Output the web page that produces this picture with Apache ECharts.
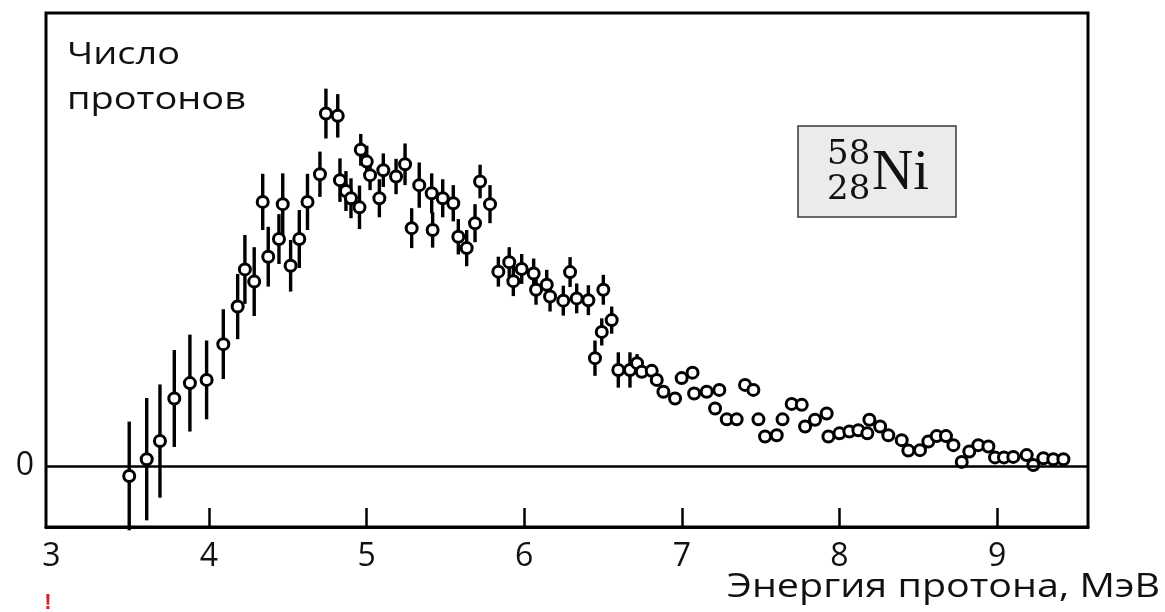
<!DOCTYPE html>
<html>
<head>
<meta charset="utf-8">
<title>Спектр протонов 58Ni</title>
<script src="https://cdn.jsdelivr.net/npm/echarts@6/dist/echarts.min.js"></script>
<style>
  html, body { margin: 0; padding: 0; background: #fff; }
  #chart { width: 1165px; height: 612px; }
</style>
</head>
<body>
<div id="chart"></div>
<script>
// Proton energy, MeV
const energy = [
  3.494, 3.605, 3.689, 3.780, 3.879, 3.985, 4.091, 4.182, 4.228, 4.287,
  4.341, 4.376, 4.444, 4.468, 4.518, 4.573, 4.625, 4.704, 4.742, 4.817,
  4.831, 4.869, 4.901, 4.955, 4.963, 5.001, 5.022, 5.081, 5.106, 5.187,
  5.244, 5.286, 5.334, 5.413, 5.419, 5.483, 5.550, 5.582, 5.635, 5.688,
  5.720, 5.783, 5.836, 5.905, 5.931, 5.984, 6.060, 6.075, 6.143, 6.164,
  6.248, 6.291, 6.333, 6.407, 6.449, 6.492, 6.502, 6.555, 6.597, 6.671,
  6.716, 6.746, 6.809, 6.841, 6.883, 6.957, 6.999, 7.068, 7.078, 7.158,
  7.211, 7.238, 7.285, 7.348, 7.401, 7.454, 7.486, 7.528, 7.602, 7.639,
  7.697, 7.761, 7.782, 7.845, 7.919, 7.930, 8.000, 8.063, 8.120, 8.177,
  8.190, 8.258, 8.310, 8.395, 8.437, 8.511, 8.564, 8.617, 8.676, 8.723,
  8.776, 8.824, 8.881, 8.945, 8.987, 9.044, 9.103, 9.188, 9.230, 9.294,
  9.357, 9.421
];

// Number of protons (arbitrary units)
const counts = [
  -2.2, 1.5, 5.5, 14.9, 18.3, 19.0, 26.9, 35.2, 43.4, 40.7,
  58.3, 46.2, 50.1, 57.8, 44.2, 50.1, 58.3, 64.4, 77.8, 77.3,
  63.1, 60.7, 59.1, 57.1, 69.8, 67.2, 64.2, 59.1, 65.3, 63.9,
  66.6, 52.5, 62.0, 60.2, 52.1, 59.1, 58.0, 50.6, 48.1, 53.6,
  62.8, 57.8, 42.9, 45.0, 40.8, 43.5, 42.5, 38.9, 40.0, 37.4,
  36.5, 42.8, 37.0, 36.6, 23.8, 29.6, 38.9, 32.2, 21.2, 21.2,
  22.7, 20.8, 21.0, 19.0, 16.4, 14.9, 19.4, 20.6, 16.0, 16.4,
  12.7, 16.8, 10.3, 10.3, 17.9, 16.8, 10.3, 6.5, 6.8, 10.3,
  13.7, 13.5, 8.7, 10.2, 11.6, 6.5, 7.2, 7.6, 7.9, 7.2,
  10.2, 8.7, 6.8, 5.7, 3.4, 3.5, 5.4, 6.6, 6.6, 4.6,
  0.9, 3.2, 4.6, 4.3, 1.9, 1.9, 2.0, 2.4, 0.2, 1.7,
  1.5, 1.5
];

// Statistical error (half-length of the bar); 0 where it lies inside the marker
const errors = [
  12.0, 13.5, 12.5, 10.7, 10.7, 8.7, 7.7, 7.2, 7.6, 7.6,
  6.2, 6.6, 5.5, 6.8, 5.7, 6.4, 6.2, 5.0, 5.5, 4.8,
  4.8, 4.4, 4.4, 4.8, 3.5, 3.5, 3.3, 4.2, 3.7, 3.9,
  4.6, 4.4, 5.0, 4.4, 3.9, 4.2, 4.0, 3.9, 4.0, 4.2,
  3.7, 4.2, 3.3, 3.3, 3.3, 3.3, 3.3, 3.3, 3.3, 3.3,
  3.3, 3.3, 3.3, 3.3, 3.9, 3.0, 3.3, 3.0, 3.9, 3.9,
  2.0, 0, 0, 0, 0, 0, 0, 0, 0, 0,
  0, 0, 0, 0, 0, 0, 0, 0, 0, 0,
  0, 0, 0, 0, 0, 0, 0, 0, 0, 0,
  0, 0, 0, 0, 0, 0, 0, 0, 0, 0,
  0, 0, 0, 0, 0, 0, 0, 0, 0, 0,
  0, 0
];

const xLabelValues = [3, 4, 5, 6, 7, 8, 9];
const xTickValues = [4, 5, 6, 7, 8, 9];
const yLabelValues = [0];

const yTitle = ['Число', 'протонов'];
const xTitle = 'Энергия протона, МэВ';

const points = energy.map((e, i) => [e, counts[i], errors[i]]);

const SANS = '"Open Sans", "DejaVu Sans", sans-serif';
const INK = '#111';

// horizontal stretch so that a caption spans a given width
function stretchFor(text, font, width) {
  const ctx = document.createElement('canvas').getContext('2d');
  ctx.font = font;
  return width / ctx.measureText(text).width;
}

const chart = echarts.init(document.getElementById('chart'), null, { renderer: 'canvas' });

const titleFont = '31px "Open Sans"';
const nameFont = '32px "Open Sans"';

chart.setOption({
  animation: false,
  backgroundColor: '#fff',
  grid: {
    left: 46, right: 77, top: 13, bottom: 85,
    show: true, borderColor: '#000', borderWidth: 3, backgroundColor: 'transparent'
  },
  xAxis: {
    type: 'value',
    min: 2.966, max: 9.577,
    axisLine: { show: true, onZero: false, lineStyle: { color: '#000', width: 3 } },
    axisTick: { show: true, inside: true, length: 19, customValues: xTickValues,
      lineStyle: { color: '#000', width: 2.5 } },
    axisLabel: { show: true, customValues: xLabelValues, fontFamily: SANS, fontSize: 32,
      color: INK, margin: 14 },
    splitLine: { show: false }
  },
  yAxis: {
    type: 'value',
    min: -13.47, max: 100,
    axisLine: { show: false },
    axisTick: { show: false },
    axisLabel: { show: true, customValues: yLabelValues, fontFamily: SANS, fontSize: 32,
      color: INK, margin: 12 },
    splitLine: { show: false }
  },
  series: [
    {
      type: 'custom',
      name: 'errors',
      data: points,
      encode: { x: 0, y: 1 },
      silent: true,
      z: 2,
      renderItem: function (params, api) {
        const x = api.value(0), y = api.value(1), e = api.value(2);
        if (!e) return null;
        const a = api.coord([x, y + e]);
        const b = api.coord([x, y - e]);
        return {
          type: 'line',
          shape: { x1: a[0], y1: a[1], x2: b[0], y2: b[1] },
          style: { stroke: '#000', lineWidth: 3.4 }
        };
      }
    },
    {
      type: 'scatter',
      name: 'counts',
      data: points.map(p => [p[0], p[1]]),
      symbol: 'circle',
      symbolSize: 11,
      z: 3,
      itemStyle: { color: '#fff', borderColor: '#000', borderWidth: 3, opacity: 1 },
      markLine: {
        silent: true,
        symbol: ['none', 'none'],
        label: { show: false },
        lineStyle: { color: '#000', width: 2.6, type: 'solid' },
        data: [{ yAxis: 0 }]
      }
    }
  ],
  graphic: [
    {
      type: 'text', x: 67, y: 55, scaleX: stretchFor(yTitle[0], titleFont, 113),
      style: { text: yTitle[0], font: titleFont, fill: INK, align: 'left', verticalAlign: 'middle' }
    },
    {
      type: 'text', x: 67, y: 100, scaleX: stretchFor(yTitle[1], titleFont, 179),
      style: { text: yTitle[1], font: titleFont, fill: INK, align: 'left', verticalAlign: 'middle' }
    },
    {
      type: 'text', x: 727, y: 588, scaleX: stretchFor(xTitle, nameFont, 433),
      style: { text: xTitle, font: nameFont, fill: INK, align: 'left', verticalAlign: 'middle' }
    },
    {
      type: 'group',
      children: [
        {
          type: 'rect',
          shape: { x: 798, y: 126, width: 158, height: 91 },
          style: { fill: '#ebebeb', stroke: '#3a3a3a', lineWidth: 1.5 }
        },
        {
          type: 'text', x: 827, y: 155,
          style: { text: '58', font: '34px "DejaVu Serif"', fill: '#111', align: 'left', verticalAlign: 'middle' }
        },
        {
          type: 'text', x: 827, y: 190,
          style: { text: '28', font: '34px "DejaVu Serif"', fill: '#111', align: 'left', verticalAlign: 'middle' }
        },
        {
          type: 'text', x: 872, y: 174,
          style: { text: 'Ni', font: '57px "Liberation Serif"', fill: '#111', align: 'left', verticalAlign: 'middle' }
        }
      ]
    },
    {
      type: 'text', x: 48, y: 603,
      style: { text: '!', font: 'bold 22px "Liberation Sans"', fill: '#d81e1e', align: 'center', verticalAlign: 'middle' }
    }
  ]
});
</script>
</body>
</html>
